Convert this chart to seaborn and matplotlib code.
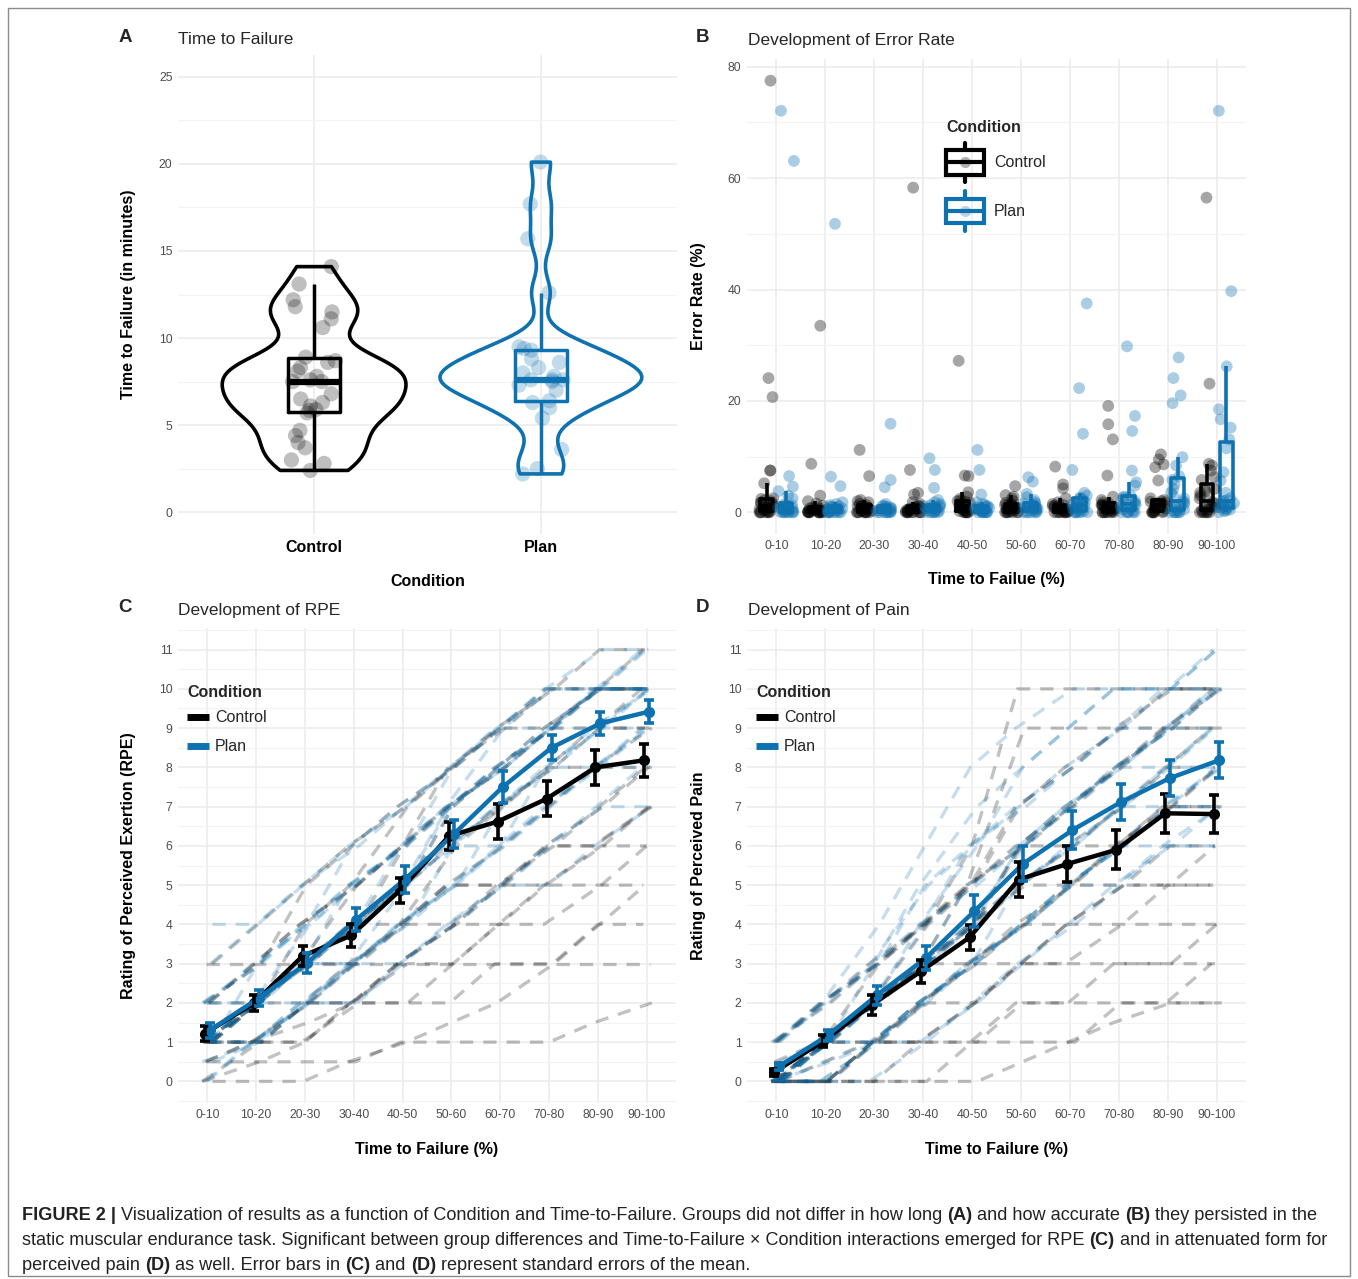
import matplotlib

matplotlib.use("Agg")
import matplotlib.pyplot as plt
from matplotlib.legend_handler import HandlerBase
from matplotlib.lines import Line2D
from matplotlib.patches import Patch, Rectangle
from matplotlib.ticker import MultipleLocator

import numpy as np
import pandas as pd
import seaborn as sns

sns.set_theme(style="whitegrid")
plt.rcParams["font.family"] = ["Liberation Sans", "DejaVu Sans"]

# stripplot jitter uses numpy's global generator; fix it so reruns look the same
np.random.seed(1)

BLUE = "#0F72B0"
GRID = "#EBEBEB"
TICK = "#4D4D4D"

conditions = ["Control", "Plan"]
palette = {"Control": "#000000", "Plan": BLUE}
bins = ["0-10", "10-20", "20-30", "30-40", "40-50",
        "50-60", "60-70", "70-80", "80-90", "90-100"]

# --- A: time to failure (minutes) ---
ttf_control = [2.4, 2.8, 3.0, 3.7, 4.0, 4.4, 4.7, 5.7, 5.85, 5.9, 6.1, 6.3, 6.5, 6.8, 7.5,
               7.5, 7.6, 7.8, 8.1, 8.3, 8.6, 8.7, 8.9, 10.6, 11.1, 11.5, 11.8, 12.2, 13.1, 14.1]
ttf_plan = [2.2, 2.5, 3.6, 5.4, 6.0, 6.3, 6.4, 7.0, 7.3, 7.5, 7.6, 7.6, 7.6, 7.8, 8.0,
            8.3, 8.6, 8.8, 9.3, 9.4, 9.5, 12.6, 15.7, 17.7, 20.1]

# --- B: error rate (%) per time bin ---
err_control = [
    [0, 0, 0, 0, 0, 0, 0, 0.2, 0.4, 0.5, 0.7, 0.8, 1, 1, 1.2, 1.4, 1.6, 1.8, 2, 2.2, 2.4, 2.5, 5.2, 7.5, 7.5, 20.7, 24.1, 77.5],
    [0, 0, 0, 0, 0, 0, 0, 0, 0, 0, 0.1, 0.2, 0.3, 0.3, 0.4, 0.5, 0.6, 0.7, 0.8, 0.9, 1.2, 1.6, 2.0, 3.0, 8.7, 33.5],
    [0, 0, 0, 0, 0, 0, 0, 0, 0.2, 0.3, 0.4, 0.5, 0.6, 0.8, 0.9, 1, 1.1, 1.2, 1.3, 1.5, 1.8, 2.0, 2.2, 6.5, 11.2],
    [0, 0, 0, 0, 0, 0, 0, 0, 0, 0.2, 0.3, 0.4, 0.5, 0.6, 0.7, 0.8, 0.9, 1, 1.2, 1.5, 1.8, 3.2, 3.5, 7.6, 58.3],
    [0, 0, 0, 0, 0, 0, 0.2, 0.4, 0.6, 0.8, 1, 1, 1.1, 1.3, 1.5, 1.7, 1.9, 2, 2.1, 2.4, 2.8, 3.6, 6.5, 6.6, 27.2],
    [0, 0, 0, 0, 0, 0, 0, 0.2, 0.4, 0.5, 0.6, 0.8, 1, 1, 1.2, 1.3, 1.4, 1.5, 1.7, 2, 2.5, 2.8, 3.1, 4.7],
    [0, 0, 0, 0, 0, 0, 0, 0, 0.2, 0.3, 0.5, 0.6, 0.8, 0.9, 1, 1.1, 1.2, 1.3, 1.5, 1.8, 2.5, 4.3, 5.0, 8.2],
    [0, 0, 0, 0, 0, 0, 0, 0.2, 0.3, 0.5, 0.6, 0.8, 1, 1, 1.1, 1.2, 1.3, 1.4, 1.6, 1.8, 2.2, 2.8, 6.6, 13.1, 15.8, 19.1],
    [0, 0, 0, 0, 0, 0, 0.2, 0.4, 0.6, 0.8, 1, 1, 1.2, 1.4, 1.5, 1.6, 1.8, 1.9, 2, 2.2, 2.5, 5.7, 8.1, 8.6, 9.5, 10.4],
    [0, 0, 0, 0, 0, 0, 0.3, 0.5, 0.8, 1, 1.2, 1.5, 1.8, 2, 2.5, 3, 3.5, 3.8, 4, 4.2, 5.8, 6.3, 7.5, 8.4, 8.7, 23.1, 56.5],
]
err_plan = [
    [0, 0, 0, 0, 0, 0, 0, 0.1, 0.2, 0.3, 0.4, 0.5, 0.6, 0.7, 0.8, 0.9, 1, 1.1, 1.2, 1.3, 1.4, 2.5, 3, 3.8, 4.6, 6.5, 63.1, 72.1],
    [0, 0, 0, 0, 0, 0, 0, 0, 0.1, 0.2, 0.3, 0.4, 0.5, 0.6, 0.7, 0.8, 0.9, 1, 1.1, 1.3, 1.5, 1.8, 4.7, 6.4, 51.8],
    [0, 0, 0, 0, 0, 0, 0, 0.1, 0.2, 0.3, 0.4, 0.5, 0.6, 0.7, 0.8, 0.9, 1, 1.1, 1.2, 1.5, 4.5, 5.8, 15.9],
    [0, 0, 0, 0, 0, 0, 0.2, 0.3, 0.4, 0.5, 0.6, 0.7, 0.8, 0.9, 1, 1.1, 1.2, 1.3, 1.5, 1.8, 2.2, 4.4, 7.6, 9.7],
    [0, 0, 0, 0, 0, 0, 0, 0.1, 0.2, 0.3, 0.4, 0.5, 0.6, 0.7, 0.8, 0.9, 1, 1.1, 1.3, 1.5, 1.8, 3.2, 7.6, 11.2],
    [0, 0, 0, 0, 0, 0, 0.2, 0.4, 0.5, 0.6, 0.8, 0.9, 1, 1.1, 1.2, 1.4, 1.5, 1.6, 1.8, 2.2, 2.7, 3.3, 5.5, 6.3],
    [0, 0, 0, 0, 0, 0, 0.2, 0.4, 0.6, 0.8, 1, 1.1, 1.2, 1.4, 1.6, 1.8, 2, 2.2, 2.4, 2.7, 3, 3.5, 7.6, 14.1, 22.3, 37.5],
    [0, 0, 0, 0, 0, 0, 0.3, 0.5, 0.7, 0.9, 1, 1.2, 1.4, 1.6, 1.8, 2, 2.3, 2.6, 2.8, 3, 4.8, 5.4, 7.5, 14.6, 17.3, 29.8],
    [0, 0, 0, 0, 0, 0, 0.3, 0.5, 0.8, 1, 1.2, 1.5, 1.8, 2, 2.5, 3, 3.5, 4.2, 5, 5.8, 6.5, 8.4, 9.9, 19.6, 21, 24.1, 27.8],
    [0, 0.2, 0.3, 0.5, 0.6, 0.7, 0.8, 1, 1.2, 1.4, 1.6, 1.8, 2, 2.2, 2.5, 3.5, 5.7, 7.2, 11.5, 13.1, 15.2, 16.7, 18.5, 26.2, 39.7, 72.1],
]

# --- C: RPE, group means and standard errors ---
rpe_mean_control = [1.22, 1.99, 3.19, 3.72, 4.87, 6.25, 6.62, 7.2, 8.0, 8.18]
rpe_se_control = [0.2, 0.2, 0.25, 0.3, 0.32, 0.35, 0.45, 0.45, 0.45, 0.42]
rpe_mean_plan = [1.3, 2.12, 3.02, 4.12, 5.15, 6.3, 7.5, 8.5, 9.12, 9.42]
rpe_se_plan = [0.2, 0.2, 0.25, 0.3, 0.35, 0.35, 0.4, 0.32, 0.3, 0.3]

# --- D: pain, group means and standard errors ---
pain_mean_control = [0.23, 1.02, 1.95, 2.8, 3.67, 5.14, 5.54, 5.9, 6.83, 6.81]
pain_se_control = [0.08, 0.15, 0.25, 0.3, 0.32, 0.45, 0.45, 0.5, 0.5, 0.48]
pain_mean_plan = [0.38, 1.17, 2.19, 3.14, 4.34, 5.55, 6.4, 7.12, 7.73, 8.18]
pain_se_plan = [0.1, 0.15, 0.25, 0.3, 0.4, 0.45, 0.48, 0.45, 0.45, 0.46]

# --- individual trajectories (dashed background lines) ---
rpe_control = [
    [1, 2, 3, 4, 5, 7, 8, 9, 10, 10],
    [0.5, 0.5, 0.5, 0.5, 1, 1, 1, 1, 1.5, 2],
    [0, 0, 0, 0.5, 1, 1.5, 2, 3, 4, 5],
    [3, 3, 3, 3, 3, 3, 3, 3, 3, 3],
    [1, 2, 3, 3, 4, 5, 5, 5, 5, 5],
    [1, 1, 2, 2, 3, 4, 5, 6, 7, 8],
    [2, 3, 4, 5, 6, 7, 8, 9, 10, 10],
    [1, 2, 4, 5, 7, 8, 9, 9, 10, 10],
    [1, 1, 2, 3, 4, 5, 5, 6, 6, 7],
    [1, 2, 3, 4, 5, 6, 7, 8, 9, 9],
    [0.5, 1, 2, 3, 4, 6, 7, 8, 9, 9],
    [1, 2, 3, 4, 6, 7, 8, 9, 10, 11],
    [1, 1, 2, 2, 3, 4, 4, 5, 6, 7],
    [2, 3, 4, 5, 6, 8, 9, 10, 10, 10],
    [0, 1, 1, 2, 2, 3, 4, 4, 5, 6],
    [2, 2, 3, 4, 5, 6, 7, 8, 8, 9],
    [1, 2, 2, 3, 4, 4, 5, 6, 7, 8],
    [0.5, 1, 1.5, 2, 3, 4, 5, 6, 6, 7],
    [1, 1, 1, 2, 2, 2, 3, 3, 4, 4],
    [2, 3, 5, 6, 7, 8, 9, 10, 10, 10],
    [1, 2, 3, 5, 6, 7, 8, 9, 9, 10],
    [0, 0.5, 1, 2, 3, 3, 4, 5, 6, 6],
    [1, 2, 3, 4, 4, 5, 6, 7, 8, 8],
    [3, 4, 5, 6, 7, 8, 9, 10, 11, 11],
]
rpe_plan = [
    [1, 2, 3, 4, 5, 7, 8, 9, 10, 11],
    [2, 3, 4, 5, 6, 7, 8, 9, 10, 10],
    [1, 2, 3, 5, 6, 7, 8, 9, 10, 10],
    [0, 1, 2, 3, 4, 5, 7, 8, 9, 10],
    [1, 2, 3, 4, 5, 6, 7, 8, 8, 9],
    [2, 3, 4, 6, 7, 8, 9, 10, 11, 11],
    [1, 1, 2, 3, 4, 5, 6, 7, 8, 9],
    [0.5, 1, 2, 3, 4, 6, 7, 8, 9, 10],
    [1, 2, 3, 4, 6, 7, 9, 10, 10, 10],
    [4, 4, 5, 6, 7, 8, 9, 10, 10, 11],
    [1, 2, 2, 3, 4, 5, 6, 7, 8, 9],
    [1, 2, 3, 4, 5, 7, 8, 9, 10, 10],
    [2, 2, 3, 3, 4, 5, 6, 8, 9, 10],
    [1, 1, 2, 2, 3, 4, 5, 6, 7, 8],
    [2, 3, 4, 5, 6, 8, 9, 10, 10, 10],
    [1, 2, 4, 5, 6, 7, 8, 9, 9, 10],
    [0.5, 1, 2, 3, 5, 6, 7, 8, 9, 9],
    [1, 2, 3, 4, 5, 6, 6, 7, 8, 8],
    [3, 4, 5, 6, 7, 8, 9, 9, 10, 10],
    [1, 1, 2, 3, 3, 4, 5, 6, 7, 7],
    [2, 2, 3, 4, 5, 7, 8, 9, 10, 11],
    [1, 2, 3, 3, 4, 5, 6, 7, 8, 9],
    [0, 1, 2, 2, 3, 4, 5, 5, 6, 7],
    [1, 3, 4, 5, 6, 7, 8, 9, 10, 10],
]
pain_control = [
    [0, 0, 0, 0, 0, 0.5, 1, 1.5, 2, 2],
    [0, 1, 1, 1, 1, 2, 2, 2, 2, 2],
    [0, 0, 1, 1, 2, 3, 3, 3, 3, 3],
    [0, 1, 2, 3, 4, 5, 5, 5, 5, 5],
    [0, 1, 2, 3, 4, 6, 7, 8, 9, 10],
    [1, 2, 3, 4, 5, 9, 9, 9, 10, 10],
    [0, 1, 2, 3, 4, 5, 6, 7, 8, 9],
    [0, 0, 1, 2, 3, 4, 4, 4, 4, 4],
    [0, 1, 3, 4, 5, 6, 7, 8, 9, 10],
    [0, 1, 2, 3, 4, 6, 6, 7, 8, 8],
    [0.5, 1, 2, 3, 3, 4, 5, 6, 7, 7],
    [0, 1, 2, 4, 5, 7, 8, 9, 10, 10],
    [0, 0, 1, 2, 3, 4, 5, 6, 7, 8],
    [1, 2, 3, 4, 6, 10, 10, 10, 10, 10],
    [0, 0, 0, 1, 1, 2, 2, 3, 3, 4],
    [0, 1, 1, 2, 3, 4, 5, 6, 7, 7],
    [0, 0, 1, 1, 2, 3, 4, 5, 6, 6],
    [1, 2, 3, 4, 5, 6, 7, 8, 9, 9],
    [0, 0.5, 1, 2, 2, 3, 3, 4, 5, 5],
    [0, 1, 2, 3, 5, 6, 7, 8, 9, 10],
    [0, 0, 0, 0, 1, 1, 1, 2, 2, 3],
    [0, 1, 2, 3, 4, 5, 6, 6, 7, 8],
    [1, 2, 3, 4, 5, 7, 8, 9, 9, 9],
    [0, 0, 1, 2, 3, 3, 4, 5, 5, 6],
]
pain_plan = [
    [0, 1, 2, 4, 6, 8, 9, 10, 10, 11],
    [1, 2, 4, 6, 8, 9, 10, 10, 10, 10],
    [0, 1, 2, 3, 4, 5, 6, 7, 8, 9],
    [0, 0, 1, 2, 3, 4, 5, 6, 7, 8],
    [0.5, 1, 2, 3, 4, 6, 7, 8, 9, 10],
    [0, 1, 2, 3, 5, 6, 7, 8, 9, 10],
    [0, 0, 0, 1, 2, 3, 4, 5, 6, 6],
    [1, 2, 3, 4, 5, 6, 7, 8, 9, 10],
    [0, 1, 2, 3, 4, 5, 6, 7, 7, 8],
    [0, 1, 1, 2, 3, 4, 5, 6, 7, 7],
    [0, 0, 1, 2, 3, 4, 5, 5, 6, 7],
    [1, 2, 3, 5, 6, 7, 8, 9, 10, 11],
    [0, 1, 2, 3, 4, 6, 7, 8, 9, 9],
    [0, 0.5, 1, 2, 3, 5, 6, 7, 8, 9],
    [0, 1, 3, 5, 7, 8, 9, 10, 10, 11],
    [0, 1, 2, 3, 4, 5, 6, 7, 8, 8],
    [0, 0, 1, 2, 3, 4, 5, 6, 7, 7],
    [1, 2, 3, 4, 6, 7, 8, 9, 10, 10],
    [0, 1, 2, 3, 4, 6, 7, 8, 8, 9],
    [0, 0.5, 1, 2, 3, 4, 5, 6, 6, 7],
    [0, 1, 2, 4, 5, 6, 7, 8, 9, 10],
    [0, 0, 1, 1, 2, 3, 4, 5, 6, 6],
    [1, 2, 3, 5, 6, 7, 8, 9, 9, 10],
    [0, 1, 1, 2, 3, 4, 5, 6, 7, 8],
]

W, H = 1358, 1279
fig = plt.figure(figsize=(W / 100, H / 100), dpi=100)
fig.patch.set_facecolor("white")


def px_axes(left, top, right, bottom):
    return fig.add_axes([left / W, 1 - bottom / H, (right - left) / W, (bottom - top) / H])


def style_axes(ax, ylim, major, minor, ncat, ylabel, xlabel, ylab_x, xlab_y):
    ax.set_facecolor("white")
    for spine in ax.spines.values():
        spine.set_visible(False)
    ax.set_xlim(-0.6, ncat - 0.4)
    ax.set_ylim(*ylim)
    ax.yaxis.set_major_locator(MultipleLocator(major))
    ax.yaxis.set_minor_locator(MultipleLocator(minor))
    ax.grid(False)
    ax.grid(which="major", axis="both", color=GRID, lw=1.1)
    ax.grid(which="minor", axis="y", color="#F3F3F3", lw=0.8)
    ax.set_axisbelow(True)
    ax.tick_params(which="both", length=0, colors=TICK, labelsize=8.8, pad=4)
    ax.set_ylabel(ylabel, fontsize=11.5, weight="bold", color="black", va="center")
    ax.set_xlabel(xlabel, fontsize=11.5, weight="bold", color="black", va="center")
    ax.yaxis.set_label_coords(ylab_x, 0.5)
    ax.xaxis.set_label_coords(0.5, xlab_y)


def panel_heading(letter, title, x_letter, x_title, y):
    fig.text(x_letter / W, 1 - (y - 3) / H, letter, fontsize=13.5, weight="bold", ha="center", va="center")
    fig.text(x_title / W, 1 - y / H, title, fontsize=12.5, ha="left", va="center")


# ---------------- A ----------------
axA = px_axes(178, 55, 677, 534)
violin_widths = {"Control": 0.81, "Plan": 0.89}
violin_bw = {"Control": 0.62, "Plan": 0.42}
for cond, vals in zip(conditions, [ttf_control, ttf_plan]):
    sub = pd.DataFrame({"cond": cond, "ttf": vals})
    sns.violinplot(data=sub, x="cond", y="ttf", order=conditions, color=palette[cond],
                   fill=False, cut=0, inner=None, width=violin_widths[cond],
                   bw_adjust=violin_bw[cond], linewidth=2.6, ax=axA)
dfA = pd.DataFrame({
    "cond": ["Control"] * len(ttf_control) + ["Plan"] * len(ttf_plan),
    "ttf": ttf_control + ttf_plan,
})
sns.boxplot(data=dfA, x="cond", y="ttf", hue="cond", order=conditions, hue_order=conditions,
            palette=palette, fill=False, width=0.23, showfliers=False, showcaps=False,
            linewidth=2.5, medianprops={"linewidth": 4.5}, legend=False, ax=axA)
sns.stripplot(data=dfA, x="cond", y="ttf", hue="cond", order=conditions, hue_order=conditions,
              palette=palette, jitter=0.1, size=11, alpha=0.25, linewidth=0, legend=False, ax=axA)
style_axes(axA, (-1.25, 26.25), 5, 2.5, 2, "Time to Failure (in minutes)", "Condition",
           -0.1, -0.1)
axA.set_xticks(range(len(conditions)))
axA.set_xticklabels(conditions, fontsize=11.5, weight="bold", color="black")
panel_heading("A", "Time to Failure", 125, 178, 40)

# ---------------- B ----------------
axB = px_axes(747, 59, 1246, 534)
rows = []
for cond, per_bin in zip(conditions, [err_control, err_plan]):
    for b, vals in zip(bins, per_bin):
        rows += [{"bin": b, "cond": cond, "err": v} for v in vals]
dfB = pd.DataFrame(rows)
sns.boxplot(data=dfB, x="bin", y="err", hue="cond", order=bins, hue_order=conditions,
            palette=palette, fill=False, width=0.8, gap=0.35, showfliers=False,
            showcaps=False, linewidth=2.6, medianprops={"linewidth": 2.6}, legend=False, ax=axB)
sns.stripplot(data=dfB, x="bin", y="err", hue="cond", order=bins, hue_order=conditions,
              palette=palette, dodge=True, jitter=0.32, size=8.5, alpha=0.35, linewidth=0,
              legend=False, ax=axB)
style_axes(axB, (-3.9, 81.4), 20, 10, len(bins), "Error Rate (%)", "Time to Failue (%)",
           -0.098, -0.096)
axB.set_xticks(range(len(bins)))
axB.set_xticklabels(bins)
panel_heading("B", "Development of Error Rate", 702, 748, 40)


class BoxKey(HandlerBase):
    def create_artists(self, legend, orig_handle, xdescent, ydescent, width, height,
                       fontsize, trans):
        col = orig_handle.get_edgecolor()
        x0, y0 = -xdescent, -ydescent
        cx = x0 + width / 2
        box = Rectangle((x0, y0), width, height, fill=False, ec=col, lw=3, transform=trans)
        med = Line2D([x0, x0 + width], [y0 + height / 2] * 2, color=col, lw=3, transform=trans)
        up = Line2D([cx, cx], [y0 + height, y0 + height * 1.3], color=col, lw=3, transform=trans)
        dn = Line2D([cx, cx], [y0, y0 - height * 0.3], color=col, lw=3, transform=trans)
        dot = Line2D([cx], [y0 + height / 2], marker="o", ms=8, color=col, alpha=0.3,
                     ls="", mew=0, transform=trans)
        return [box, med, up, dn, dot]


box_handles = [Patch(edgecolor=palette[c], facecolor="none", label=c) for c in conditions]
legB = axB.legend(handles=box_handles, title="Condition", loc="upper left",
                  bbox_to_anchor=(0.399, 0.872), frameon=False, fontsize=11.5,
                  title_fontsize=11.5, handlelength=2.4, handleheight=2.0, labelspacing=1.5,
                  handletextpad=0.6, borderpad=0, borderaxespad=0, alignment="left",
                  handler_map={Patch: BoxKey()})
legB.get_title().set_fontweight("bold")
legB._legend_box.sep = 11


# ---------------- C & D ----------------
def rating_panel(ax, subj_control, subj_plan, means, ses):
    rows = []
    for cond, subjects in zip(conditions, [subj_control, subj_plan]):
        for i, traj in enumerate(subjects):
            for j, v in enumerate(traj):
                # small deterministic horizontal jitter so overlapping trajectories separate
                dx = (((i * 3 + j * 5) % 7) - 3) * 0.035
                rows.append({"cond": cond, "subj": f"{cond}{i}", "x": j + dx, "v": v})
    df = pd.DataFrame(rows)
    sns.lineplot(data=df, x="x", y="v", hue="cond", units="subj", estimator=None, sort=False,
                 hue_order=conditions, palette=palette, linestyle=(0, (4, 3)), lw=2.4,
                 alpha=0.24, legend=False, ax=ax)
    mrows = []
    for k, cond in enumerate(conditions):
        dodge = -0.05 if k == 0 else 0.05
        for j, (m, s) in enumerate(zip(means[k], ses[k])):
            mrows.append({"cond": cond, "x": j + dodge, "mean": m, "se": s})
    dm = pd.DataFrame(mrows)
    sns.lineplot(data=dm, x="x", y="mean", hue="cond", hue_order=conditions, palette=palette,
                 lw=3.2, marker="o", ms=8, mew=0, legend=False, ax=ax)
    for cond, g in dm.groupby("cond"):
        ax.errorbar(g["x"], g["mean"], yerr=g["se"], fmt="none", ecolor=palette[cond],
                    elinewidth=2.6, capsize=3.5, capthick=2.6, zorder=5)
    ax.set_xticks(range(len(bins)))
    ax.set_xticklabels(bins)
    handles = [Line2D([], [], color=palette[c], lw=5, solid_capstyle="butt") for c in conditions]
    leg = ax.legend(handles, conditions, title="Condition", loc="upper left",
                    bbox_to_anchor=(0.018, 0.881), frameon=False, fontsize=11.5,
                    title_fontsize=11.5, handlelength=1.35, handletextpad=0.4,
                    labelspacing=0.875, borderpad=0, borderaxespad=0, alignment="left")
    leg.get_title().set_fontweight("bold")
    leg._legend_box.sep = 7.8


axC = px_axes(178, 628, 676, 1103)
rating_panel(axC, rpe_control, rpe_plan,
             [rpe_mean_control, rpe_mean_plan], [rpe_se_control, rpe_se_plan])
style_axes(axC, (-0.55, 11.55), 1, 0.5, len(bins), "Rating of Perceived Exertion (RPE)",
           "Time to Failure (%)", -0.1, -0.098)
panel_heading("C", "Development of RPE", 125, 178, 610)

axD = px_axes(747, 628, 1246, 1103)
rating_panel(axD, pain_control, pain_plan,
             [pain_mean_control, pain_mean_plan], [pain_se_control, pain_se_plan])
style_axes(axD, (-0.55, 11.55), 1, 0.5, len(bins), "Rating of Perceived Pain",
           "Time to Failure (%)", -0.098, -0.098)
panel_heading("D", "Development of Pain", 702, 748, 610)

# ---------------- caption ----------------
caption_lines = [
    [("FIGURE 2 |", "bold"),
     (" Visualization of results as a function of Condition and Time-to-Failure. Groups did not differ in how long ", "normal"),
     ("(A)", "bold"), (" and how accurate ", "normal"), ("(B)", "bold"),
     (" they persisted in the", "normal")],
    [("static muscular endurance task. Significant between group differences and Time-to-Failure \u00d7 Condition interactions emerged for RPE ", "normal"),
     ("(C)", "bold"), (" and in attenuated form for", "normal")],
    [("perceived pain ", "normal"), ("(D)", "bold"), (" as well. Error bars in ", "normal"),
     ("(C)", "bold"), (" and ", "normal"), ("(D)", "bold"),
     (" represent standard errors of the mean.", "normal")],
]
CAP_SIZE = 13.05
renderer = fig.canvas.get_renderer()


def run_width(s, weight):
    def w(txt):
        t = fig.text(0, 0, txt, fontsize=CAP_SIZE, weight=weight)
        width = t.get_window_extent(renderer).width
        t.remove()
        return width
    return w("|" + s + "|") - w("||")


for line, y in zip(caption_lines, [1220, 1245, 1270]):
    x = 22
    for s, weight in line:
        fig.text(x / W, 1 - y / H, s, fontsize=CAP_SIZE, weight=weight, ha="left",
                 va="baseline", color="#222222")
        x += run_width(s, weight)

fig.add_artist(Rectangle((8 / W, 3 / H), (1350 - 8) / W, (1271 - 3) / H, fill=False,
                         ec="#8C8C8C", lw=1.0, transform=fig.transFigure))

fig.savefig("out.png", dpi=100)
plt.close(fig)
